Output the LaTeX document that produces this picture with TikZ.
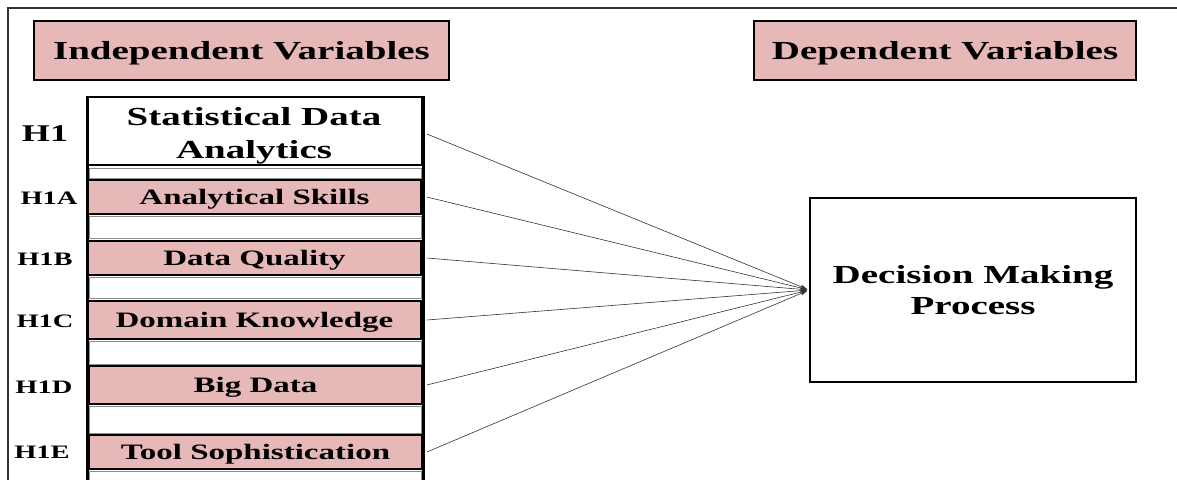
\documentclass[tikz,border=0pt]{standalone}
\usepackage{fontspec}
\usepackage{graphicx}
\setmainfont{Liberation Serif}
\usetikzlibrary{arrows.meta}
\definecolor{pinkfill}{RGB}{230,185,184}
\newcommand{\wtxt}[1]{\scalebox{1.5}[1]{#1}}
\tikzset{
  hdr/.style={draw, line width=2pt, fill=pinkfill, inner sep=0pt, text height=17.2pt, text depth=0pt, font=\fontsize{26}{30}\selectfont\bfseries},
  itembox/.style={draw, line width=1.8pt, fill=pinkfill, minimum width=333pt, inner sep=0pt, text height=14.5pt, text depth=0pt, font=\fontsize{22}{25}\selectfont\bfseries},
  hlab/.style={inner sep=0pt, text height=12.5pt, text depth=0pt, font=\fontsize{19}{22}\selectfont\bfseries},
  band/.style={draw=black!45, line width=0.8pt, fill=white},
  conn/.style={-{Stealth[length=7pt,width=4.5pt]}, line width=0.6pt, draw=black!80},
  bigbox/.style={draw, line width=1.8pt, fill=white, inner sep=0pt},
  bigtxt/.style={inner sep=0pt, align=center, font=\fontsize{26}{33}\selectfont\bfseries},
}
\begin{document}
\begin{tikzpicture}[x=1pt, y=-1pt]
\useasboundingbox (0,0) rectangle (1177,479);
\fill[white] (0,0) rectangle (1177,479);
% outer frame
\draw[line width=1.2pt, black!80] (8,490) -- (8,8) -- (1190,8);
% headers
\node[hdr, minimum width=415pt, minimum height=59pt] (iv) at (241.5,50.5) {\wtxt{Independent Variables}};
\node[hdr, minimum width=382pt, minimum height=59pt] (dv) at (945,50.5) {\wtxt{Dependent Variables}};
% column
\draw[line width=3pt, fill=white] (87,97) rectangle (423,495);
% bands
\draw[band] (89,168) rectangle (421,178);
\draw[band] (89,216) rectangle (421,238);
\draw[band] (89,277) rectangle (421,298);
\draw[band] (89,341) rectangle (421,364);
\draw[band] (89,406) rectangle (421,433);
\draw[band] (89,471) rectangle (421,490);
% SDA
\node[bigbox, minimum width=334pt, minimum height=68pt] (sda) at (255,131) {};
\node[bigtxt] (sdat) at (254,135.4) {\wtxt{Statistical Data}\\\wtxt{Analytics}};
% items
\node[itembox, minimum height=34pt] (as) at (254.5,197) {\wtxt{Analytical Skills}};
\node[itembox, minimum height=34pt] (dq) at (254.5,258) {\wtxt{Data Quality}};
\node[itembox, minimum height=38pt] (dk) at (254.5,320) {\wtxt{Domain Knowledge}};
\node[itembox, minimum height=38pt] (bd) at (255.5,385) {\wtxt{Big Data}};
\node[itembox, minimum height=34pt] (ts) at (255.5,452) {\wtxt{Tool Sophistication}};
% labels
\node[hlab, text height=15.8pt, font=\fontsize{24}{26}\selectfont\bfseries] (l1) at (45,134) {\wtxt{H1}};
\node[hlab] (l1a) at (49,198) {\wtxt{H1A}};
\node[hlab] (l1b) at (45,259) {\wtxt{H1B}};
\node[hlab] (l1c) at (45,321) {\wtxt{H1C}};
\node[hlab] (l1d) at (44,387) {\wtxt{H1D}};
\node[hlab] (l1e) at (42,452) {\wtxt{H1E}};
% dependent box
\node[bigbox, minimum width=326pt, minimum height=184pt] (dmp) at (973,290) {};
\node[bigtxt, font=\fontsize{26}{31}\selectfont\bfseries] (dmpt) at (973,290.6) {\wtxt{Decision Making}\\\wtxt{Process}};
% connectors
\draw[conn, shorten >=2pt] ([xshift=4pt]sda.east |- l1) -- (dmp.west);
\draw[conn, shorten >=2pt] ([xshift=5pt]as.east) -- (dmp.west);
\draw[conn, shorten >=2pt] ([xshift=5pt]dq.east) -- (dmp.west);
\draw[conn, shorten >=2pt] ([xshift=5pt]dk.east) -- (dmp.west);
\draw[conn, shorten >=2pt] ([xshift=4pt]bd.east) -- (dmp.west);
\draw[conn, shorten >=2pt] ([xshift=4pt]ts.east) -- (dmp.west);
\end{tikzpicture}
\end{document}
